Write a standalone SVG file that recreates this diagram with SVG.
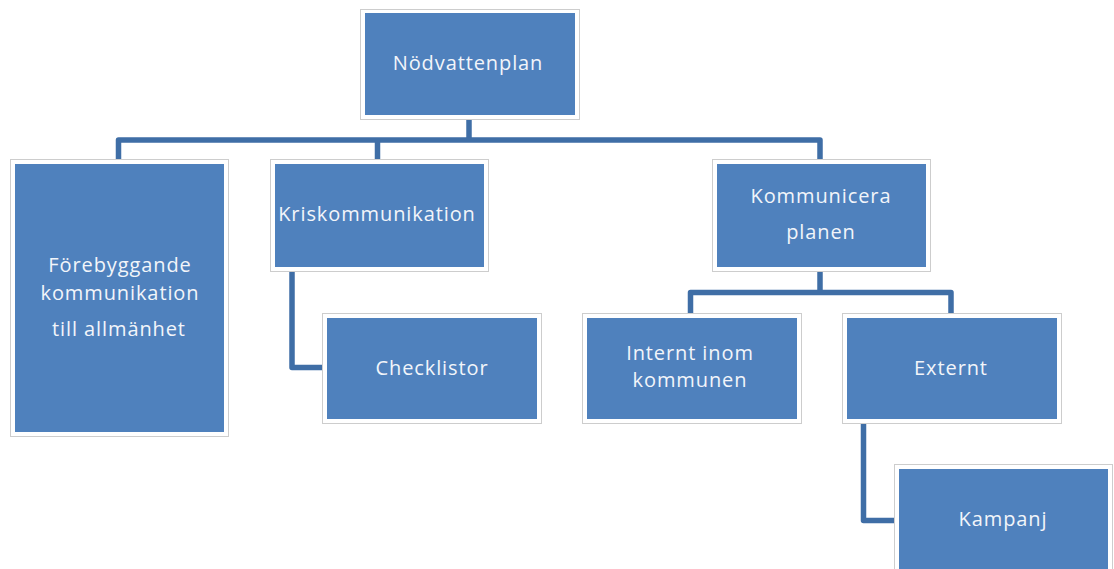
<svg xmlns="http://www.w3.org/2000/svg" width="1114" height="569" viewBox="0 0 1114 569">
  <style>
    .frame { fill: #ffffff; stroke: #cdcdcd; stroke-width: 1; }
    .box { fill: #4f81bd; }
    .lbl { font-family: "Open Sans", "Noto Sans", "DejaVu Sans", sans-serif; font-size: 20px; letter-spacing: 0.9px; fill: #f2f5fa; text-anchor: middle; }
    .conn { fill: none; stroke: #3f6ea6; stroke-width: 5.5; stroke-linejoin: round; }
  </style>
  <rect x="0" y="0" width="1114" height="569" fill="#ffffff"/>
  <g id="connectors">
    <path class="conn" d="M469 120 V140"/>
    <path class="conn" d="M118.5 159 V140 H820 V159"/>
    <path class="conn" d="M377.5 140 V159"/>
    <path class="conn" d="M292 272 V367.5 H322"/>
    <path class="conn" d="M820 272 V292.5"/>
    <path class="conn" d="M690.5 313 V292.5 H951 V313"/>
    <path class="conn" d="M863.5 424 V520.5 H894"/>
  </g>
  <g id="node-nodvattenplan">
    <rect class="frame" x="360.5" y="9.5" width="219" height="110"/>
    <rect class="box" x="365" y="13" width="210" height="102"/>
    <text class="lbl" x="468" y="70">Nödvattenplan</text>
  </g>
  <g id="node-forebyggande">
    <rect class="frame" x="10.5" y="159.5" width="218" height="277"/>
    <rect class="box" x="15" y="164" width="209" height="268"/>
    <text class="lbl" x="120" y="272">Förebyggande</text>
    <text class="lbl" x="120" y="300">kommunikation</text>
    <text class="lbl" x="119" y="336">till allmänhet</text>
  </g>
  <g id="node-kriskommunikation">
    <rect class="frame" x="270.5" y="159.5" width="218" height="112"/>
    <rect class="box" x="275" y="164" width="209" height="103"/>
    <text class="lbl" x="377" y="221">Kriskommunikation</text>
  </g>
  <g id="node-checklistor">
    <rect class="frame" x="322.5" y="313.5" width="219" height="110"/>
    <rect class="box" x="327" y="318" width="210" height="101"/>
    <text class="lbl" x="432" y="375">Checklistor</text>
  </g>
  <g id="node-kommunicera">
    <rect class="frame" x="712.5" y="159.5" width="218" height="112"/>
    <rect class="box" x="717" y="164" width="209" height="103"/>
    <text class="lbl" x="821" y="203">Kommunicera</text>
    <text class="lbl" x="821" y="239">planen</text>
  </g>
  <g id="node-internt">
    <rect class="frame" x="582.5" y="313.5" width="219" height="110"/>
    <rect class="box" x="587" y="318" width="210" height="101"/>
    <text class="lbl" x="690" y="360">Internt inom</text>
    <text class="lbl" x="690" y="387">kommunen</text>
  </g>
  <g id="node-externt">
    <rect class="frame" x="842.5" y="313.5" width="219" height="110"/>
    <rect class="box" x="847" y="318" width="210" height="101"/>
    <text class="lbl" x="951" y="375">Externt</text>
  </g>
  <g id="node-kampanj">
    <rect class="frame" x="894.5" y="464.5" width="218" height="115"/>
    <rect class="box" x="899" y="469" width="209" height="110"/>
    <text class="lbl" x="1003" y="526">Kampanj</text>
  </g>
</svg>
